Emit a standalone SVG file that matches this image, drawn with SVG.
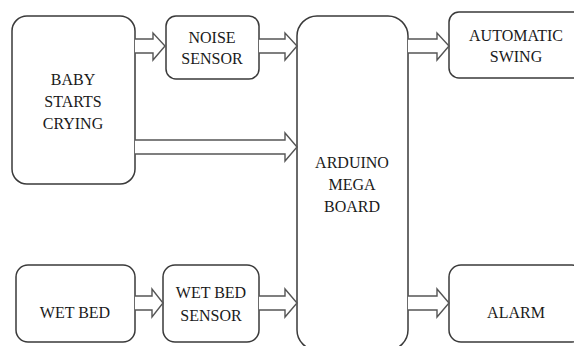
<svg xmlns="http://www.w3.org/2000/svg" width="574" height="346" viewBox="0 0 574 346">
<style>
.box{fill:#fff;stroke:#3a3a3a;stroke-width:1.5}
.arr{fill:#fff;stroke:#555;stroke-width:1.4;stroke-linejoin:miter}
</style>
<rect width="574" height="346" fill="#fff"/>
<g font-family="Liberation Serif, Times New Roman, serif" font-size="16" fill="#1a1a1a" text-anchor="middle">
<g id="baby"><rect class="box" x="12" y="16" width="123" height="168" rx="15"/>
<text x="73" y="85">BABY</text><text x="73" y="107">STARTS</text><text x="73" y="129">CRYING</text></g>
<g id="noise"><rect class="box" x="166" y="16" width="93" height="63" rx="10"/>
<text x="212" y="43">NOISE</text><text x="212" y="64">SENSOR</text></g>
<g id="arduino"><rect class="box" x="297" y="16" width="111" height="334" rx="20"/>
<text x="352" y="168">ARDUINO</text><text x="352" y="190">MEGA</text><text x="352" y="212">BOARD</text></g>
<g id="swing"><rect class="box" x="449" y="12" width="135" height="66" rx="10"/>
<text x="516" y="41">AUTOMATIC</text><text x="516" y="62">SWING</text></g>
<g id="wetbed"><rect class="box" x="16" y="265" width="119" height="77" rx="12"/>
<text x="75" y="318">WET BED</text></g>
<g id="wetbedsensor"><rect class="box" x="163" y="265" width="96" height="77" rx="12"/>
<text x="211" y="298">WET BED</text><text x="211" y="321">SENSOR</text></g>
<g id="alarm"><rect class="box" x="449" y="265" width="135" height="77" rx="12"/>
<text x="516" y="318">ALARM</text></g>
</g>
<g id="connectors">
<path class="arr" d="M135,39 L153,39 L153,33 L165,46 L153,60 L153,53 L135,53"/>
<path class="arr" d="M259,39 L285,39 L285,33 L297,46 L285,60 L285,53 L259,53"/>
<path class="arr" d="M135,140 L285,140 L285,133 L297,147 L285,161 L285,154 L135,154"/>
<path class="arr" d="M135,296 L152,296 L152,289 L163,303 L152,317 L152,310 L135,310"/>
<path class="arr" d="M259,296 L285,296 L285,289 L297,303 L285,317 L285,310 L259,310"/>
<path class="arr" d="M408,39 L437,39 L437,33 L449,46 L437,60 L437,53 L408,53"/>
<path class="arr" d="M408,296 L437,296 L437,289 L449,303 L437,317 L437,310 L408,310"/>
</g>
</svg>
